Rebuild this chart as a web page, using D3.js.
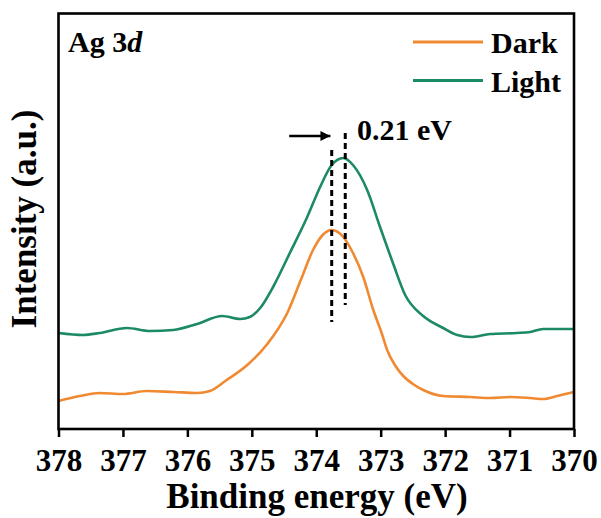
<!DOCTYPE html>
<html>
<head>
<meta charset="utf-8">
<script src="https://cdn.jsdelivr.net/npm/d3@7"></script>
<style>
  body { margin: 0; background: #fff; }
  text { font-family: "Liberation Serif", "Times New Roman", serif; font-weight: bold; }
</style>
</head>
<body>
<svg id="chart" width="601" height="518"></svg>
<script>
// Ag 3d XPS, dark vs light
var xTicks = [378, 377, 376, 375, 374, 373, 372, 371, 370];

var darkEnergy = [378.0, 377.67, 377.36, 377.0, 376.63, 376.22, 375.85, 375.65, 375.39, 375.07,
  374.76, 374.45, 374.24, 374.05, 373.9, 373.76, 373.58, 373.43, 373.27, 373.12,
  372.98, 372.9, 372.78, 372.65, 372.5, 372.34, 372.03, 371.61, 371.3, 370.99, 370.68, 370.48, 370.26, 370.0];
var darkIntensity = [28, 33, 36, 35, 38, 37, 36, 38, 49, 64,
  85, 116, 149, 179, 194, 199, 192, 176, 152, 120,
  95, 79, 64, 53, 45, 39, 33, 32, 31, 32, 31, 30, 33, 37];

var lightEnergy = [378.0, 377.62, 377.36, 376.94, 376.58, 376.22, 375.85, 375.46, 375.18, 375.03,
  374.87, 374.67, 374.41, 374.14, 373.94, 373.76, 373.58, 373.43, 373.21, 373.01,
  372.81, 372.62, 372.34, 372.03, 371.81, 371.61, 371.3, 370.89, 370.68, 370.48, 370.26, 370.0];
var lightIntensity = [96, 94, 96, 101, 98, 99, 105, 113, 110, 112,
  121, 142, 176, 212, 242, 264, 271, 264, 239, 202,
  166, 134, 113, 101, 94, 92, 95, 96, 97, 100, 100, 100];

var seriesNames = ['Dark', 'Light'];
var seriesColors = ['#f08a32', '#1c8a63'];

// peak markers (eV)
var darkPeak = 373.76, lightPeak = 373.55;
var shiftLabel = '0.21 eV';

var svg = d3.select('#chart');
var mLeft = 58.5, mRight = 574, mTop = 13.5, mBottom = 429;

var x = d3.scaleLinear().domain([378, 370]).range([mLeft, mRight]);
var y = d3.scaleLinear().domain([0, 415.5]).range([mBottom, mTop]);

var line = d3.line()
  .x(function(d) { return x(d[0]); })
  .y(function(d) { return y(d[1]); })
  .curve(d3.curveMonotoneX);

var darkData = darkEnergy.map(function(e, i) { return [e, darkIntensity[i]]; });
var lightData = lightEnergy.map(function(e, i) { return [e, lightIntensity[i]]; });

svg.append('path').datum(darkData)
  .attr('d', line).attr('fill', 'none')
  .attr('stroke', seriesColors[0]).attr('stroke-width', 2.6);
svg.append('path').datum(lightData)
  .attr('d', line).attr('fill', 'none')
  .attr('stroke', seriesColors[1]).attr('stroke-width', 2.6);

// dashed peak lines
svg.append('line')
  .attr('x1', x(darkPeak)).attr('x2', x(darkPeak))
  .attr('y1', y(279)).attr('y2', y(107))
  .attr('stroke', '#000').attr('stroke-width', 3).attr('stroke-dasharray', '6,4');
svg.append('line')
  .attr('x1', x(lightPeak)).attr('x2', x(lightPeak))
  .attr('y1', y(296)).attr('y2', y(124))
  .attr('stroke', '#000').attr('stroke-width', 3).attr('stroke-dasharray', '6,4');

// arrow
svg.append('defs').append('marker')
  .attr('id', 'arrowhead')
  .attr('viewBox', '0 0 10 10').attr('refX', 10).attr('refY', 5)
  .attr('markerUnits', 'userSpaceOnUse')
  .attr('markerWidth', 15).attr('markerHeight', 10)
  .attr('orient', 'auto')
  .append('path').attr('d', 'M0,0 L10,5 L0,10 Z').attr('fill', '#000');
svg.append('line')
  .attr('x1', x(374.42)).attr('x2', x(373.78))
  .attr('y1', 136).attr('y2', 136)
  .attr('stroke', '#000').attr('stroke-width', 2.5)
  .attr('marker-end', 'url(#arrowhead)');
svg.append('text').attr('x', 357).attr('y', 140)
  .attr('font-size', 30).text(shiftLabel);

// x axis
var xAxis = d3.axisBottom(x).tickValues(xTicks).tickSize(8).tickSizeOuter(0).tickPadding(12);
var gx = svg.append('g').attr('transform', 'translate(0,' + mBottom + ')').call(xAxis);
gx.attr('font-size', null).attr('font-family', null);
gx.select('.domain').remove();
gx.selectAll('.tick line').attr('stroke', '#000').attr('stroke-width', 2.5);
gx.selectAll('.tick text')
  .attr('font-size', 31).attr('fill', '#000');

// frame
svg.append('rect')
  .attr('x', mLeft).attr('y', mTop)
  .attr('width', mRight - mLeft).attr('height', mBottom - mTop)
  .attr('fill', 'none').attr('stroke', '#000').attr('stroke-width', 2.6);

// axis titles
svg.append('text').attr('x', 317).attr('y', 508)
  .attr('text-anchor', 'middle').attr('font-size', 35)
  .text('Binding energy (eV)');
svg.append('text')
  .attr('transform', 'translate(36,219) rotate(-90)')
  .attr('text-anchor', 'middle').attr('font-size', 35)
  .text('Intensity (a.u.)');

// panel label
var lab = svg.append('text').attr('x', 68).attr('y', 52).attr('font-size', 30);
lab.append('tspan').text('Ag 3');
lab.append('tspan').attr('font-style', 'italic').text('d');

// legend
seriesNames.forEach(function(name, i) {
  var ly = 42 + i * 38.5;
  svg.append('line')
    .attr('x1', 413).attr('x2', 483).attr('y1', ly).attr('y2', ly)
    .attr('stroke', seriesColors[i]).attr('stroke-width', 3);
  svg.append('text').attr('x', 491).attr('y', ly + 11)
    .attr('font-size', 30).text(name);
});
</script>
</body>
</html>
